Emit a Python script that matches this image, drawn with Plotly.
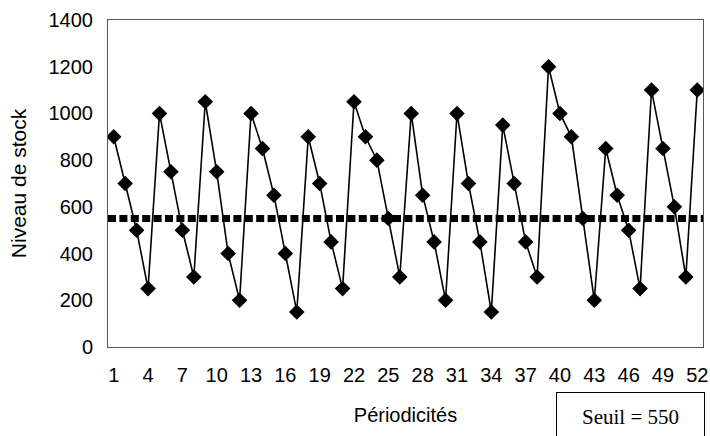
import plotly.graph_objects as go

periodes = list(range(1, 53))
niveau_stock = [900, 700, 500, 250, 1000, 750, 500, 300, 1050, 750,
                400, 200, 1000, 850, 650, 400, 150, 900, 700, 450,
                250, 1050, 900, 800, 550, 300, 1000, 650, 450, 200,
                1000, 700, 450, 150, 950, 700, 450, 300, 1200, 1000,
                900, 550, 200, 850, 650, 500, 250, 1100, 850, 600,
                300, 1100]
seuil = 550
x_ticks = list(range(1, 53, 3))
y_ticks = list(range(0, 1401, 200))

FONT = "Liberation Sans, Arial, sans-serif"

fig = go.Figure()
fig.add_hline(y=seuil, line=dict(color="black", width=7, dash="8px,3.4px"), layer="below")
fig.add_trace(go.Scatter(
    x=periodes, y=niveau_stock, mode="lines+markers",
    line=dict(color="black", width=1.6),
    marker=dict(symbol="diamond", size=12, color="black"),
    showlegend=False,
))

fig.update_layout(
    width=710, height=436,
    margin=dict(l=108, r=7, t=20, b=89),
    paper_bgcolor="white", plot_bgcolor="white",
    font=dict(family=FONT, size=20, color="black"),
    xaxis=dict(
        range=[0.5, 52.5], tickmode="array", tickvals=x_ticks,
        ticktext=[str(t) for t in x_ticks],
        showgrid=False, zeroline=False, showline=True, mirror=True,
        linecolor="#555", linewidth=1, ticks="", ticklabelstandoff=10,
        tickfont=dict(size=20), automargin=False,
        title=dict(text="Périodicités", font=dict(size=20), standoff=22),
    ),
    yaxis=dict(
        range=[0, 1400], tickmode="array", tickvals=y_ticks,
        showgrid=False, zeroline=False, showline=True, mirror=True,
        linecolor="#555", linewidth=1, ticks="", ticklabelstandoff=10,
        tickfont=dict(size=20), automargin=False,
        title=dict(text="Niveau de stock", font=dict(size=21), standoff=16),
    ),
    annotations=[dict(
        text="Seuil = 550", xref="paper", yref="paper",
        x=(630 - 108) / 595, y=(347 - 392) / 327,
        xanchor="center", yanchor="top", showarrow=False,
        width=145, height=46, borderpad=1, bordercolor="black", borderwidth=1,
        font=dict(family="Liberation Serif, Times New Roman, serif", size=21, color="black"),
    )],
)

fig.write_html(
    "out.html",
    config={"displayModeBar": False},
    post_script="document.body.style.margin='0';document.body.style.overflow='hidden';",
)
